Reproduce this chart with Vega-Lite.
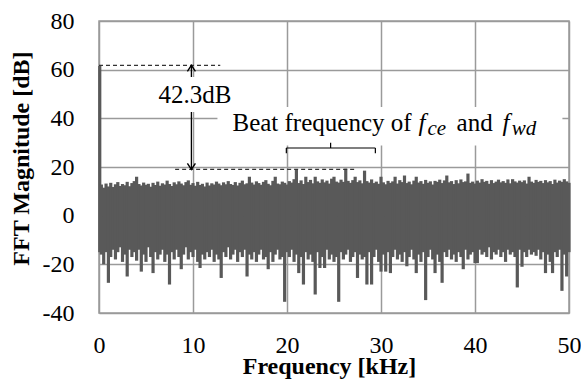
{
"$schema": "https://vega.github.io/schema/vega-lite/v6.json",
"width": 470, "height": 292,
"autosize": {"type": "none"},
"padding": {"left": 99, "top": 21, "right": 12, "bottom": 66},
"background": "white",
"config": {
  "view": {"stroke": "#9a9a9a", "strokeWidth": 1.5},
  "font": "'Liberation Serif', 'Times New Roman', Times, serif",
  "axis": {"grid": true, "gridColor": "#9a9a9a", "gridWidth": 1.5, "domain": false, "ticks": false,
    "labelFont": "'Liberation Serif', 'Times New Roman', Times, serif", "labelFontSize": 24, "labelColor": "#000000",
    "titleFont": "'Liberation Serif', 'Times New Roman', Times, serif", "titleFontSize": 24, "titleFontWeight": "bold", "titleColor": "#000000"}
},
"encoding": {
  "x": {"field": "f", "type": "quantitative", "scale": {"domain": [0, 50], "nice": false},
    "axis": {"title": "Frequency [kHz]", "tickCount": 5, "labelPadding": 20, "labelDx": -3, "labelFlush": false,
      "labelExpr": "toString(datum.value)",
      "titleX": 230, "titleY": 60, "titleBaseline": "alphabetic"}},
  "y": {"field": "db", "type": "quantitative", "scale": {"domain": [-40, 80], "nice": false},
    "axis": {"title": "FFT Magnitude [dB]", "tickCount": 6, "labelPadding": 25,
      "labelExpr": "toString(datum.value)",
      "titleX": -78, "titleY": 137, "titleBaseline": "middle", "titleAngle": -90}}
},
"layer": [
  {
    "data": {"values": [
{"f":0.08,"db":-15,"db2":61.5},
{"f":0.25,"db":-16,"db2":12.8},{"f":0.5,"db":-20,"db2":11.5},{"f":0.75,"db":-15,"db2":13.2},{"f":1.0,"db":-27.6,"db2":12.0},
{"f":1.25,"db":-17,"db2":13.5},{"f":1.5,"db":-14,"db2":11.8},{"f":1.75,"db":-18,"db2":12.9},{"f":2.0,"db":-15,"db2":13.8},
{"f":2.25,"db":-13,"db2":12.2},{"f":2.5,"db":-19,"db2":13.0},{"f":2.75,"db":-16,"db2":12.5},{"f":3.0,"db":-25,"db2":13.9},
{"f":3.25,"db":-14,"db2":12.1},{"f":3.5,"db":-17,"db2":13.4},{"f":3.75,"db":-15,"db2":14.2},{"f":4.0,"db":-18.5,"db2":16.0},
{"f":4.25,"db":-14,"db2":13.0},{"f":4.5,"db":-23,"db2":12.4},{"f":4.75,"db":-16,"db2":13.6},{"f":5.0,"db":-19,"db2":12.7},
{"f":5.25,"db":-13,"db2":13.1},{"f":5.5,"db":-17,"db2":11.9},{"f":5.75,"db":-23.6,"db2":13.5},{"f":6.0,"db":-15,"db2":12.6},
{"f":6.25,"db":-18,"db2":14.0},{"f":6.5,"db":-16,"db2":12.3},{"f":6.75,"db":-14,"db2":13.3},{"f":7.0,"db":-19,"db2":12.8},
{"f":7.25,"db":-16,"db2":14.4},{"f":7.5,"db":-28.3,"db2":13.0},{"f":7.75,"db":-15,"db2":12.2},{"f":8.0,"db":-18,"db2":13.7},
{"f":8.25,"db":-14,"db2":12.9},{"f":8.5,"db":-17,"db2":14.1},{"f":8.75,"db":-22,"db2":13.2},{"f":9.0,"db":-16,"db2":12.5},
{"f":9.25,"db":-13,"db2":13.8},{"f":9.5,"db":-18,"db2":14.5},{"f":9.75,"db":-15,"db2":12.7},{"f":10.0,"db":-17,"db2":13.4},
{"f":10.25,"db":-14,"db2":12.3},{"f":10.5,"db":-19,"db2":13.9},{"f":10.75,"db":-21.5,"db2":12.6},{"f":11.0,"db":-16,"db2":13.1},
{"f":11.25,"db":-18,"db2":12.0},{"f":11.5,"db":-15,"db2":13.6},{"f":11.75,"db":-17,"db2":12.4},{"f":12.0,"db":-14,"db2":13.3},
{"f":12.25,"db":-19,"db2":12.8},{"f":12.5,"db":-16,"db2":14.0},{"f":12.75,"db":-18,"db2":13.2},{"f":13.0,"db":-25.6,"db2":12.5},
{"f":13.25,"db":-15,"db2":13.7},{"f":13.5,"db":-17,"db2":12.9},{"f":13.75,"db":-13,"db2":14.2},{"f":14.0,"db":-18,"db2":13.0},
{"f":14.25,"db":-16,"db2":12.6},{"f":14.5,"db":-14,"db2":13.8},{"f":14.75,"db":-19,"db2":12.4},{"f":15.0,"db":-15,"db2":13.5},
{"f":15.25,"db":-17,"db2":14.4},{"f":15.5,"db":-14,"db2":12.9},{"f":15.75,"db":-25,"db2":13.3},{"f":16.0,"db":-16,"db2":16.0},
{"f":16.25,"db":-18,"db2":13.6},{"f":16.5,"db":-15,"db2":12.8},{"f":16.75,"db":-19,"db2":14.1},{"f":17.0,"db":-16,"db2":13.4},
{"f":17.25,"db":-14,"db2":12.7},{"f":17.5,"db":-18,"db2":13.9},{"f":17.75,"db":-17,"db2":14.6},{"f":18.0,"db":-22,"db2":13.1},
{"f":18.25,"db":-15,"db2":12.5},{"f":18.5,"db":-19,"db2":14.3},{"f":18.75,"db":-16,"db2":16.0},{"f":19.0,"db":-14,"db2":13.2},
{"f":19.25,"db":-18,"db2":12.9},{"f":19.5,"db":-17,"db2":14.0},{"f":19.75,"db":-35.4,"db2":13.5},{"f":20.0,"db":-15,"db2":12.8},
{"f":20.25,"db":-17,"db2":14.2},{"f":20.5,"db":-14,"db2":13.6},{"f":20.75,"db":-19,"db2":15.0},{"f":21.0,"db":-16,"db2":18.8},
{"f":21.25,"db":-23.6,"db2":13.4},{"f":21.5,"db":-17,"db2":14.5},{"f":21.75,"db":-28.3,"db2":13.0},{"f":22.0,"db":-15,"db2":16.0},
{"f":22.25,"db":-18,"db2":13.8},{"f":22.5,"db":-16,"db2":14.7},{"f":22.75,"db":-19,"db2":13.3},{"f":23.0,"db":-32.4,"db2":16.0},
{"f":23.25,"db":-15,"db2":14.1},{"f":23.5,"db":-21.5,"db2":13.5},{"f":23.75,"db":-17,"db2":14.9},{"f":24.0,"db":-21.5,"db2":13.7},
{"f":24.25,"db":-14,"db2":14.4},{"f":24.5,"db":-18,"db2":13.2},{"f":24.75,"db":-16,"db2":15.2},{"f":25.0,"db":-19,"db2":16.0},
{"f":25.25,"db":-17,"db2":14.0},{"f":25.5,"db":-35.4,"db2":13.6},{"f":25.75,"db":-15,"db2":14.8},{"f":26.0,"db":-18,"db2":13.9},
{"f":26.25,"db":-16,"db2":19.3},{"f":26.5,"db":-14,"db2":14.3},{"f":26.75,"db":-19,"db2":13.5},{"f":27.0,"db":-17,"db2":14.6},
{"f":27.25,"db":-15,"db2":16.0},{"f":27.5,"db":-25.6,"db2":13.8},{"f":27.75,"db":-16,"db2":14.5},{"f":28.0,"db":-18,"db2":13.3},
{"f":28.25,"db":-17,"db2":18.5},{"f":28.5,"db":-28.3,"db2":14.2},{"f":28.75,"db":-15,"db2":13.6},{"f":29.0,"db":-28.3,"db2":14.9},
{"f":29.25,"db":-17,"db2":13.4},{"f":29.5,"db":-14,"db2":14.0},{"f":29.75,"db":-19,"db2":13.1},{"f":30.0,"db":-23,"db2":16.0},
{"f":30.25,"db":-16,"db2":13.7},{"f":30.5,"db":-23,"db2":12.9},{"f":30.75,"db":-15,"db2":14.3},{"f":31.0,"db":-23.6,"db2":13.5},
{"f":31.25,"db":-17,"db2":14.1},{"f":31.5,"db":-14,"db2":16.0},{"f":31.75,"db":-18,"db2":13.2},{"f":32.0,"db":-16,"db2":14.6},
{"f":32.25,"db":-19,"db2":13.8},{"f":32.5,"db":-15,"db2":16.5},{"f":32.75,"db":-20.8,"db2":13.4},{"f":33.0,"db":-17,"db2":14.0},
{"f":33.25,"db":-14,"db2":12.9},{"f":33.5,"db":-18,"db2":14.4},{"f":33.75,"db":-23.6,"db2":16.0},{"f":34.0,"db":-16,"db2":13.6},
{"f":34.25,"db":-19,"db2":14.2},{"f":34.5,"db":-15,"db2":13.1},{"f":34.75,"db":-34.7,"db2":14.7},{"f":35.0,"db":-17,"db2":13.5},
{"f":35.25,"db":-14,"db2":14.1},{"f":35.5,"db":-18,"db2":12.8},{"f":35.75,"db":-23.6,"db2":14.3},{"f":36.0,"db":-16,"db2":13.9},
{"f":36.25,"db":-19,"db2":14.8},{"f":36.5,"db":-27.6,"db2":13.4},{"f":36.75,"db":-15,"db2":14.5},{"f":37.0,"db":-17,"db2":16.5},
{"f":37.25,"db":-14,"db2":13.7},{"f":37.5,"db":-18,"db2":14.2},{"f":37.75,"db":-16,"db2":13.0},{"f":38.0,"db":-19,"db2":14.6},
{"f":38.25,"db":-15,"db2":13.3},{"f":38.5,"db":-17,"db2":14.9},{"f":38.75,"db":-22,"db2":13.8},{"f":39.0,"db":-14,"db2":14.1},
{"f":39.25,"db":-18,"db2":17.3},{"f":39.5,"db":-16,"db2":13.5},{"f":39.75,"db":-15,"db2":14.0},{"f":40.0,"db":-19.5,"db2":13.2},
{"f":40.25,"db":-19.5,"db2":14.4},{"f":40.5,"db":-14,"db2":13.6},{"f":40.75,"db":-16,"db2":15.0},{"f":41.0,"db":-15,"db2":13.9},
{"f":41.25,"db":-17,"db2":14.3},{"f":41.5,"db":-13,"db2":13.1},{"f":41.75,"db":-18,"db2":14.6},{"f":42.0,"db":-15,"db2":13.4},
{"f":42.25,"db":-16,"db2":14.0},{"f":42.5,"db":-14,"db2":14.8},{"f":42.75,"db":-17,"db2":13.7},{"f":43.0,"db":-15,"db2":14.2},
{"f":43.25,"db":-19,"db2":13.5},{"f":43.5,"db":-14,"db2":14.9},{"f":43.75,"db":-16,"db2":13.3},{"f":44.0,"db":-15,"db2":15.0},
{"f":44.25,"db":-17,"db2":14.1},{"f":44.5,"db":-29.5,"db2":13.6},{"f":44.75,"db":-14,"db2":14.4},{"f":45.0,"db":-21,"db2":13.8},
{"f":45.25,"db":-15,"db2":14.5},{"f":45.5,"db":-17,"db2":13.2},{"f":45.75,"db":-14,"db2":16.0},{"f":46.0,"db":-16,"db2":14.0},
{"f":46.25,"db":-15,"db2":13.5},{"f":46.5,"db":-16.5,"db2":14.7},{"f":46.75,"db":-14,"db2":13.9},{"f":47.0,"db":-18,"db2":14.3},
{"f":47.25,"db":-15,"db2":13.4},{"f":47.5,"db":-23.6,"db2":14.6},{"f":47.75,"db":-16,"db2":13.7},{"f":48.0,"db":-19,"db2":14.2},
{"f":48.25,"db":-23.6,"db2":13.0},{"f":48.5,"db":-15,"db2":14.8},{"f":48.75,"db":-17,"db2":13.6},{"f":49.0,"db":-14,"db2":14.4},
{"f":49.25,"db":-30.9,"db2":13.9},{"f":49.5,"db":-16,"db2":15.0},{"f":49.75,"db":-25,"db2":14.1},{"f":50.0,"db":-15,"db2":13.5}
    ]},
    "mark": {"type": "rule", "color": "#595959", "strokeWidth": 3.2},
    "encoding": {"y2": {"field": "db2"}}
  },
  {
    "data": {"values": [{"f": 9.83, "db": 19.0, "db2": 61.8}]},
    "mark": {"type": "rule", "color": "#000000", "strokeWidth": 1.3},
    "encoding": {"y2": {"field": "db2"}}
  },
  {
    "data": {"values": [
      {"f": 5.9, "f2": 14.4, "db": 42.6, "db2": 57.0},
      {"f": 12.6, "f2": 49.3, "db": 28.8, "db2": 44.7}
    ]},
    "mark": {"type": "rect", "fill": "#ffffff", "stroke": null},
    "encoding": {"x2": {"field": "f2"}, "y2": {"field": "db2"}}
  },
  {
    "data": {"values": [
      {"f": 19.93, "f2": 19.93, "db": 25.7, "db2": 27.8},
      {"f": 19.93, "f2": 29.4, "db": 27.8, "db2": 27.8},
      {"f": 29.4, "f2": 29.4, "db": 25.7, "db2": 27.8},
      {"f": 24.64, "f2": 24.64, "db": 27.8, "db2": 30.0}
    ]},
    "mark": {"type": "rule", "color": "#000000", "strokeWidth": 1.2},
    "encoding": {"x2": {"field": "f2"}, "y2": {"field": "db2"}}
  },
  {
    "data": {"values": [
      {"f": 0, "f2": 12.9, "db": 61.8},
      {"f": 8.1, "f2": 27.2, "db": 19.0}
    ]},
    "mark": {"type": "rule", "color": "#333333", "strokeWidth": 1.3, "strokeDash": [4, 3]},
    "encoding": {"x2": {"field": "f2"}}
  },
  {
    "data": {"values": [{"f": 9.83, "db": 61.8}]},
    "mark": {"type": "point", "shape": "M-1,1.5L0,0L1,1.5", "size": 64, "filled": false, "color": "#000000", "strokeWidth": 1.4, "opacity": 1}
  },
  {
    "data": {"values": [{"f": 9.83, "db": 19.0}]},
    "mark": {"type": "point", "shape": "M-1,-1.5L0,0L1,-1.5", "size": 64, "filled": false, "color": "#000000", "strokeWidth": 1.4, "opacity": 1}
  },
  {
    "data": {"values": [{"f": 10.2, "db": 46.2, "t": "42.3dB"}]},
    "mark": {"type": "text", "font": "'Liberation Serif', 'Times New Roman', Times, serif", "fontSize": 25, "align": "center", "baseline": "alphabetic", "color": "#000000"},
    "encoding": {"text": {"field": "t"}}
  },
  {
    "data": {"values": [
      {"f": 14.2, "db": 34.6, "t": "Beat frequency of"},
      {"f": 38.04, "db": 34.6, "t": "and"}
    ]},
    "mark": {"type": "text", "font": "'Liberation Serif', 'Times New Roman', Times, serif", "fontSize": 25, "align": "left", "baseline": "alphabetic", "color": "#000000"},
    "encoding": {"text": {"field": "t"}}
  },
  {
    "data": {"values": [
      {"f": 34.0, "db": 34.6, "t": "f"},
      {"f": 42.93, "db": 34.6, "t": "f"}
    ]},
    "mark": {"type": "text", "font": "'Liberation Serif', 'Times New Roman', Times, serif", "fontSize": 25, "fontStyle": "italic", "align": "left", "baseline": "alphabetic", "color": "#000000"},
    "encoding": {"text": {"field": "t"}}
  },
  {
    "data": {"values": [
      {"f": 34.95, "db": 34.6, "t": "ce"},
      {"f": 43.9, "db": 34.6, "t": "wd"}
    ]},
    "mark": {"type": "text", "font": "'Liberation Serif', 'Times New Roman', Times, serif", "fontSize": 21, "fontStyle": "italic", "align": "left", "baseline": "alphabetic", "dy": 4, "color": "#000000"},
    "encoding": {"text": {"field": "t"}}
  }
]
}
